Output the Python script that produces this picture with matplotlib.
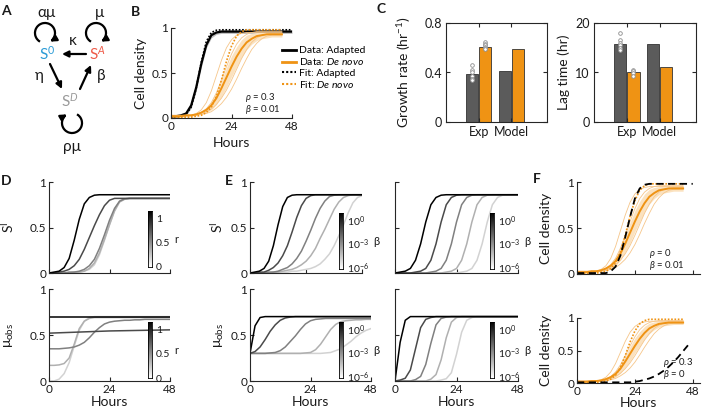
import numpy as np
import matplotlib
matplotlib.use('Agg')
import matplotlib.pyplot as plt
from matplotlib.patches import Arc
from matplotlib.lines import Line2D

plt.rcParams['font.family'] = ['Lato', 'DejaVu Sans']
plt.rcParams['mathtext.fontset'] = 'custom'
plt.rcParams['mathtext.rm'] = 'Lato'
plt.rcParams['mathtext.it'] = 'Lato:italic'
plt.rcParams['mathtext.fallback'] = 'stixsans'

# ---------------- data ----------------
hours = [0, 2, 4, 6, 8, 10, 12, 14, 16, 18, 20, 22, 24, 26, 28, 30, 32, 34, 36, 38, 40, 42, 44, 46, 48]
hours_data = hours[:23]  # measured cultures stop at 44 h

# B / F: cell density
adapted_mean = [0.02, 0.02, 0.03, 0.05, 0.14, 0.34, 0.60, 0.81, 0.92, 0.95, 0.96, 0.96, 0.96, 0.96, 0.96,
                0.96, 0.96, 0.96, 0.96, 0.96, 0.96, 0.96, 0.96, 0.96, 0.96]
adapted_sd = [0.01, 0.01, 0.01, 0.02, 0.03, 0.04, 0.04, 0.03, 0.03, 0.02, 0.02, 0.02, 0.02, 0.02, 0.02,
              0.02, 0.02, 0.02, 0.02, 0.02, 0.02, 0.02, 0.02, 0.02, 0.02]
adapted_fit = [0.01, 0.01, 0.02, 0.04, 0.12, 0.33, 0.62, 0.85, 0.95, 0.975, 0.98, 0.98, 0.98, 0.98, 0.98,
               0.98, 0.98, 0.98, 0.98, 0.98, 0.98, 0.98, 0.98, 0.98, 0.98]
denovo_mean = [0.02, 0.02, 0.02, 0.03, 0.03, 0.04, 0.06, 0.09, 0.14, 0.22, 0.33, 0.45, 0.57, 0.68, 0.77,
               0.84, 0.88, 0.91, 0.92, 0.93, 0.93, 0.93, 0.93]
denovo_hi = [0.03, 0.03, 0.03, 0.04, 0.04, 0.05, 0.08, 0.12, 0.19, 0.29, 0.42, 0.56, 0.69, 0.79, 0.87,
             0.92, 0.94, 0.95, 0.96, 0.96, 0.96, 0.96, 0.96]
denovo_lo = [0.01, 0.01, 0.01, 0.02, 0.02, 0.03, 0.04, 0.06, 0.09, 0.15, 0.24, 0.34, 0.46, 0.57, 0.68,
             0.76, 0.82, 0.86, 0.88, 0.89, 0.90, 0.90, 0.90]
denovo_reps = [
    [0.02, 0.02, 0.02, 0.02, 0.03, 0.05, 0.09, 0.17, 0.30, 0.47, 0.64, 0.78, 0.87, 0.92, 0.94, 0.95,
     0.95, 0.95, 0.95, 0.95, 0.95, 0.95, 0.95],
    [0.02, 0.02, 0.02, 0.03, 0.03, 0.04, 0.06, 0.10, 0.17, 0.28, 0.42, 0.57, 0.71, 0.82, 0.89, 0.93,
     0.95, 0.96, 0.96, 0.96, 0.96, 0.96, 0.96],
    [0.03, 0.03, 0.03, 0.03, 0.03, 0.04, 0.05, 0.07, 0.10, 0.15, 0.22, 0.31, 0.42, 0.54, 0.66, 0.76,
     0.84, 0.89, 0.92, 0.93, 0.94, 0.94, 0.94],
    [0.03, 0.03, 0.03, 0.03, 0.03, 0.03, 0.04, 0.05, 0.07, 0.11, 0.16, 0.23, 0.32, 0.43, 0.55, 0.66,
     0.76, 0.83, 0.88, 0.91, 0.92, 0.92, 0.92],
]
denovo_fit = [0.01, 0.01, 0.01, 0.01, 0.01, 0.02, 0.03, 0.06, 0.12, 0.24, 0.42, 0.63, 0.80, 0.91, 0.96,
              0.98, 0.98, 0.98, 0.98, 0.98, 0.98, 0.98, 0.98]
model_rho0 = [0.01, 0.01, 0.01, 0.01, 0.01, 0.01, 0.01, 0.03, 0.08, 0.20, 0.40, 0.62, 0.82, 0.93, 0.97,
              0.98, 0.98, 0.98, 0.98, 0.98, 0.98, 0.98, 0.98, 0.98, 0.98]
model_beta0 = [0.01, 0.01, 0.01, 0.01, 0.01, 0.01, 0.01, 0.01, 0.01, 0.01, 0.01, 0.01, 0.02, 0.03, 0.05,
               0.07, 0.10, 0.14, 0.19, 0.25, 0.32, 0.40, 0.49, 0.58]

# C: bars
groups = ['Exp', 'Model']
growth_adapted = [0.385, 0.41]
growth_denovo = [0.605, 0.59]
lag_adapted = [15.8, 15.7]
lag_denovo = [10.0, 11.2]
growth_pts_adapted = [0.46, 0.42, 0.40, 0.37, 0.35, 0.34]
growth_pts_denovo = [0.65, 0.63, 0.62, 0.61, 0.60, 0.59]
lag_pts_adapted = [18.0, 16.5, 16.0, 15.5, 15.0, 14.5]
lag_pts_denovo = [10.5, 10.3, 9.9, 9.2]

# D: varying r (1, 0.75, 0.5, 0.25, 0)
d_s1 = [
    [0.0, 0.01, 0.02, 0.06, 0.16, 0.36, 0.59, 0.76, 0.83, 0.855, 0.86, 0.86, 0.86, 0.86, 0.86, 0.86,
     0.86, 0.86, 0.86, 0.86, 0.86, 0.86, 0.86, 0.86, 0.86],
    [0.0, 0.0, 0.01, 0.02, 0.04, 0.08, 0.15, 0.26, 0.39, 0.52, 0.64, 0.74, 0.80, 0.82, 0.82, 0.82,
     0.82, 0.82, 0.82, 0.82, 0.82, 0.82, 0.82, 0.82, 0.82],
    [0.0, 0.0, 0.0, 0.0, 0.01, 0.01, 0.02, 0.04, 0.08, 0.15, 0.27, 0.42, 0.58, 0.71, 0.79, 0.815,
     0.82, 0.82, 0.82, 0.82, 0.82, 0.82, 0.82, 0.82, 0.82],
    [0.0, 0.0, 0.0, 0.0, 0.0, 0.01, 0.01, 0.02, 0.05, 0.11, 0.22, 0.37, 0.53, 0.68, 0.78, 0.81,
     0.82, 0.82, 0.82, 0.82, 0.82, 0.82, 0.82, 0.82, 0.82],
    [0.0, 0.0, 0.0, 0.0, 0.0, 0.0, 0.01, 0.02, 0.04, 0.09, 0.20, 0.36, 0.53, 0.69, 0.79, 0.815,
     0.82, 0.82, 0.82, 0.82, 0.82, 0.82, 0.82, 0.82, 0.82],
]
d_mu = [
    [0.70, 0.70, 0.70, 0.70, 0.70, 0.70, 0.70, 0.70, 0.70, 0.70, 0.70, 0.70, 0.70, 0.70, 0.70, 0.70,
     0.70, 0.70, 0.70, 0.70, 0.70, 0.70, 0.70, 0.70, 0.70],
    [0.52, 0.522, 0.524, 0.526, 0.528, 0.53, 0.532, 0.534, 0.536, 0.538, 0.54, 0.542, 0.544, 0.545,
     0.546, 0.547, 0.548, 0.549, 0.55, 0.551, 0.552, 0.553, 0.554, 0.555, 0.556],
    [0.35, 0.35, 0.35, 0.355, 0.36, 0.37, 0.39, 0.42, 0.47, 0.53, 0.58, 0.62, 0.64, 0.65, 0.655, 0.66,
     0.66, 0.665, 0.665, 0.67, 0.67, 0.67, 0.67, 0.67, 0.67],
    [0.17, 0.17, 0.175, 0.19, 0.25, 0.40, 0.57, 0.65, 0.68, 0.69, 0.69, 0.69, 0.69, 0.69, 0.69, 0.69,
     0.69, 0.69, 0.69, 0.69, 0.69, 0.69, 0.69, 0.69, 0.69],
    [0.0, 0.0, 0.02, 0.08, 0.20, 0.38, 0.55, 0.65, 0.69, 0.70, 0.70, 0.70, 0.70, 0.70, 0.70, 0.70,
     0.70, 0.70, 0.70, 0.70, 0.70, 0.70, 0.70, 0.70, 0.70],
]

# E: varying beta (1e0 ... 1e-6), left rho = 0.3, right rho = 0
e_s1_left = [
    [0.0, 0.01, 0.02, 0.05, 0.13, 0.30, 0.53, 0.73, 0.83, 0.855, 0.86, 0.86, 0.86, 0.86, 0.86, 0.86,
     0.86, 0.86, 0.86, 0.86, 0.86, 0.86, 0.86, 0.86, 0.86],
    [0.0, 0.0, 0.01, 0.01, 0.03, 0.06, 0.11, 0.19, 0.30, 0.45, 0.61, 0.74, 0.82, 0.85, 0.86, 0.86,
     0.86, 0.86, 0.86, 0.86, 0.86, 0.86, 0.86, 0.86, 0.86],
    [0.0, 0.0, 0.0, 0.0, 0.01, 0.01, 0.02, 0.04, 0.06, 0.10, 0.16, 0.24, 0.35, 0.47, 0.60, 0.71,
     0.79, 0.84, 0.855, 0.86, 0.86, 0.86, 0.86, 0.86, 0.86],
    [0.0, 0.0, 0.0, 0.0, 0.0, 0.01, 0.01, 0.02, 0.03, 0.04, 0.06, 0.09, 0.13, 0.19, 0.27, 0.38,
     0.48, 0.59, 0.70, 0.78, 0.83, 0.85, 0.86, 0.86, 0.86],
    [0.0, 0.0, 0.0, 0.0, 0.0, 0.0, 0.01, 0.01, 0.01, 0.02, 0.02, 0.03, 0.04, 0.05, 0.07, 0.10,
     0.15, 0.21, 0.30, 0.41, 0.53, 0.66, 0.77, 0.83, 0.85],
]
e_mu_left = [
    [0.30, 0.60, 0.69, 0.70, 0.70, 0.70, 0.70, 0.70, 0.70, 0.70, 0.70, 0.70, 0.70, 0.70, 0.70, 0.70,
     0.70, 0.70, 0.70, 0.70, 0.70, 0.70, 0.70, 0.70, 0.70],
    [0.30, 0.32, 0.37, 0.45, 0.54, 0.61, 0.66, 0.685, 0.695, 0.70, 0.70, 0.70, 0.70, 0.70, 0.70, 0.70,
     0.70, 0.70, 0.70, 0.70, 0.70, 0.70, 0.70, 0.70, 0.70],
    [0.30, 0.30, 0.30, 0.30, 0.305, 0.31, 0.33, 0.37, 0.43, 0.49, 0.56, 0.62, 0.655, 0.67, 0.675, 0.68,
     0.68, 0.68, 0.68, 0.68, 0.68, 0.68, 0.68, 0.68, 0.68],
    [0.30, 0.30, 0.30, 0.30, 0.30, 0.30, 0.30, 0.30, 0.30, 0.30, 0.30, 0.305, 0.31, 0.34, 0.40, 0.48,
     0.56, 0.615, 0.645, 0.655, 0.66, 0.665, 0.665, 0.67, 0.67],
    [0.30, 0.30, 0.30, 0.30, 0.30, 0.30, 0.30, 0.30, 0.30, 0.30, 0.30, 0.30, 0.30, 0.30, 0.30, 0.305,
     0.31, 0.33, 0.35, 0.39, 0.43, 0.48, 0.52, 0.55, 0.57],
]
e_s1_right = [
    [0.0, 0.01, 0.02, 0.05, 0.14, 0.32, 0.56, 0.75, 0.83, 0.855, 0.86, 0.86, 0.86, 0.86, 0.86, 0.86,
     0.86, 0.86, 0.86, 0.86, 0.86, 0.86, 0.86, 0.86, 0.86],
    [0.0, 0.0, 0.0, 0.0, 0.01, 0.02, 0.05, 0.14, 0.32, 0.56, 0.75, 0.83, 0.855, 0.86, 0.86, 0.86,
     0.86, 0.86, 0.86, 0.86, 0.86, 0.86, 0.86, 0.86, 0.86],
    [0.0, 0.0, 0.0, 0.0, 0.0, 0.0, 0.0, 0.01, 0.02, 0.05, 0.14, 0.32, 0.56, 0.75, 0.83, 0.855,
     0.86, 0.86, 0.86, 0.86, 0.86, 0.86, 0.86, 0.86, 0.86],
    [0.0, 0.0, 0.0, 0.0, 0.0, 0.0, 0.0, 0.0, 0.0, 0.0, 0.01, 0.02, 0.05, 0.14, 0.32, 0.56,
     0.75, 0.83, 0.855, 0.86, 0.86, 0.86, 0.86, 0.86, 0.86],
    [0.0, 0.0, 0.0, 0.0, 0.0, 0.0, 0.0, 0.0, 0.0, 0.0, 0.0, 0.0, 0.0, 0.01, 0.02, 0.05,
     0.14, 0.32, 0.56, 0.75, 0.83, 0.855, 0.86, 0.86, 0.86],
]
e_mu_right = [
    [0.0, 0.42, 0.66, 0.70, 0.70, 0.70, 0.70, 0.70, 0.70, 0.70, 0.70, 0.70, 0.70, 0.70, 0.70, 0.70,
     0.70, 0.70, 0.70, 0.70, 0.70, 0.70, 0.70, 0.70, 0.70],
    [0.0, 0.01, 0.03, 0.12, 0.35, 0.58, 0.67, 0.69, 0.70, 0.70, 0.70, 0.70, 0.70, 0.70, 0.70, 0.70,
     0.70, 0.70, 0.70, 0.70, 0.70, 0.70, 0.70, 0.70, 0.70],
    [0.0, 0.0, 0.0, 0.0, 0.015, 0.05, 0.18, 0.41, 0.61, 0.68, 0.695, 0.70, 0.70, 0.70, 0.70, 0.70,
     0.70, 0.70, 0.70, 0.70, 0.70, 0.70, 0.70, 0.70, 0.70],
    [0.0, 0.0, 0.0, 0.0, 0.0, 0.0, 0.0, 0.02, 0.07, 0.23, 0.47, 0.64, 0.69, 0.70, 0.70, 0.70,
     0.70, 0.70, 0.70, 0.70, 0.70, 0.70, 0.70, 0.70, 0.70],
    [0.0, 0.0, 0.0, 0.0, 0.0, 0.0, 0.0, 0.0, 0.0, 0.01, 0.025, 0.09, 0.29, 0.53, 0.66, 0.69,
     0.70, 0.70, 0.70, 0.70, 0.70, 0.70, 0.70, 0.70, 0.70],
]
shades = ['#000000', '#4a4a4a', '#808080', '#b0b0b0', '#d2d2d2']

# ---------------- styling ----------------
W, H = 708, 415
ORANGE = '#ef9314'
ORANGE_LIGHT = '#f6c68a'
ORANGE_BAND = '#fbe2bf'
DARK = '#5b5b5b'
AXC = '#262626'
TXT = '#1a1a1a'


def box(l, t, r, b):
    return [l / W, 1 - b / H, (r - l) / W, (b - t) / H]


fig = plt.figure(figsize=(W / 100, H / 100), dpi=100)


def frame(rect, xlim=(0, 48), ylabels=True, xlabels=True):
    ax = fig.add_axes(box(*rect))
    ax.set_xlim(*xlim)
    ax.set_ylim(0, 1)
    ax.spines[['top', 'right']].set_visible(False)
    for s in ax.spines.values():
        s.set_color(AXC)
        s.set_linewidth(0.8)
    ax.set_xticks([0, 24, 48])
    ax.set_yticks([0, 0.5, 1])
    ax.set_yticklabels(['0', '0.5', '1'] if ylabels else [])
    if not xlabels:
        ax.set_xticklabels([])
    ax.tick_params(direction='in', length=3, width=0.8, labelsize=8.5, pad=2,
                   color=AXC, labelcolor=TXT)
    return ax


def cbar(rect, lo, hi, ticks, labels, name, dx):
    cax = fig.add_axes(box(*rect))
    cax.imshow(np.linspace(0, 1, 200)[:, None], cmap='gray_r', aspect='auto', origin='lower',
               extent=(0, 1, lo, hi))
    cax.set_xticks([])
    cax.yaxis.tick_right()
    cax.set_yticks(ticks, labels)
    cax.tick_params(length=0, pad=3, labelsize=7.5, labelcolor=TXT)
    for s in cax.spines.values():
        s.set_linewidth(0.6)
    cax.annotate(name, (1, 0.5), xycoords='axes fraction', xytext=(dx, 0),
                 textcoords='offset points', va='center', fontsize=8, color=TXT)


def draw_denovo(ax):
    ax.fill_between(hours_data, denovo_lo, denovo_hi, color=ORANGE_BAND, lw=0)
    for rep in denovo_reps:
        ax.plot(hours_data, rep, color=ORANGE_LIGHT, lw=0.6)
    ax.plot(hours_data, denovo_mean, color=ORANGE, lw=1.4)
    ax.plot(hours_data, denovo_fit, color=ORANGE, lw=1.2, ls=(0, (1, 1)))


def curves(ax, series):
    for ys, c in reversed(list(zip(series, shades))):
        ax.plot(hours, ys, color=c, lw=1.1)


def params(ax, x, y, rho, beta):
    ax.text(x, y, r'$\rho$ = ' + rho + '\n' + r'$\beta$ = ' + beta, transform=ax.transAxes,
            fontsize=6.8, va='bottom', ha='left', linespacing=0.9, color=TXT)


# ---------------- A: diagram ----------------
ax_a = fig.add_axes([0, 0, 1, 1], zorder=-1)
ax_a.set_xlim(0, W)
ax_a.set_ylim(H, 0)
ax_a.axis('off')
node = dict(ha='center', va='center', fontsize=11)
ax_a.text(47, 54, 'S$^0$', color='#2b9bd6', **node)
ax_a.text(97, 54, 'S$^A$', color='#ee5a48', **node)
ax_a.text(70, 101, 'S$^D$', color='#9a9a9a', **node)
greek = dict(ha='center', va='center', fontsize=11, color=TXT)
ax_a.text(47, 13, 'αμ', **greek)
ax_a.text(100, 13, 'μ', **greek)
ax_a.text(72, 147, 'ρμ', **greek)
ax_a.text(73, 41, 'κ', **greek)
ax_a.text(39, 76, 'η', **greek)
ax_a.text(101, 76, 'β', **greek)
arrow = dict(arrowstyle='-|>', color='k', lw=1.6, mutation_scale=9, shrinkA=0, shrinkB=0)
ax_a.annotate('', xy=(62, 54), xytext=(86, 54), arrowprops=arrow)
ax_a.annotate('', xy=(62, 89), xytext=(50, 64), arrowprops=arrow)
ax_a.annotate('', xy=(91, 65), xytext=(80, 89), arrowprops=arrow)


def loop(cx, cy, t1, t2):
    ax_a.add_patch(Arc((cx, cy), 20, 20, theta1=t1, theta2=t2 - 12, lw=1.6, color='k'))
    th = np.radians(t2)
    end = (cx + 10 * np.cos(th), cy + 10 * np.sin(th))
    ax_a.annotate('', xy=end, xytext=(end[0] + 4 * np.sin(th), end[1] - 4 * np.cos(th)),
                  arrowprops=arrow)


loop(45, 33, 120, 420)
loop(96, 33, 120, 420)
loop(72, 123, 300, 600)

# ---------------- B ----------------
ax_b = frame((171, 28, 292, 118))
lo = [m - s for m, s in zip(adapted_mean, adapted_sd)]
hi = [m + s for m, s in zip(adapted_mean, adapted_sd)]
ax_b.fill_between(hours, lo, hi, color='#bdbdbd', lw=0)
ax_b.plot(hours, adapted_mean, color='k', lw=1.6)
ax_b.plot(hours, adapted_fit, color='k', lw=1.2, ls=(0, (1, 1)))
draw_denovo(ax_b)
ax_b.set_ylabel('Cell density', fontsize=10, color=TXT)
ax_b.yaxis.set_label_coords(-0.2, 0.5)
ax_b.set_xlabel('Hours', fontsize=10, color=TXT, labelpad=4)
params(ax_b, 0.61, 0.02, '0.3', '0.01')
handles = [Line2D([], [], color='k', lw=2), Line2D([], [], color=ORANGE, lw=2),
           Line2D([], [], color='k', lw=1.5, ls=(0, (1, 1))),
           Line2D([], [], color=ORANGE, lw=1.5, ls=(0, (1, 1)))]
fig.legend(handles, ['Data: Adapted', 'Data: $\\it{De\\ novo}$', 'Fit: Adapted', 'Fit: $\\it{De\\ novo}$'],
           loc='upper left', bbox_to_anchor=(282 / W, 1 - 46 / H), frameon=False, fontsize=7.5,
           handlelength=1.3, handletextpad=0.3, labelspacing=0.1, borderpad=0, borderaxespad=0)

# ---------------- C ----------------
pos = np.arange(1, len(groups) + 1)


def bars(rect, adapted, denovo, pts_a, pts_d, yticks, ylabel, lx):
    ax = fig.add_axes(box(*rect))
    ax.bar(pos - 0.2, adapted, width=0.37, color=DARK, edgecolor='#333333', lw=0.6)
    ax.bar(pos + 0.2, denovo, width=0.37, color=ORANGE, edgecolor='#333333', lw=0.6)
    ax.plot([pos[0] - 0.2] * len(pts_a), pts_a, 'o', ms=2.6, mfc='white', mec='#8c8c8c', mew=0.6)
    ax.plot([pos[0] + 0.2] * len(pts_d), pts_d, 'o', ms=2.6, mfc='white', mec='#8c8c8c', mew=0.6)
    ax.set_xlim(0, 3.1)
    ax.set_ylim(yticks[0], yticks[-1])
    ax.set_xticks(pos, groups)
    ax.set_yticks(yticks, [f'{v:g}' for v in yticks])
    ax.tick_params(direction='in', length=3, width=0.8, labelsize=9, pad=3, top=True, right=True,
                   color=AXC, labelcolor=TXT)
    for s in ax.spines.values():
        s.set_color(AXC)
        s.set_linewidth(0.8)
    ax.set_ylabel(ylabel, fontsize=10, color=TXT)
    ax.yaxis.set_label_coords(lx, 0.5)


bars((446, 23, 547, 122), growth_adapted, growth_denovo, growth_pts_adapted, growth_pts_denovo,
     [0, 0.4, 0.8], 'Growth rate (hr$^{-1}$)', -0.33)
bars((594, 23, 696, 122), lag_adapted, lag_denovo, lag_pts_adapted, lag_pts_denovo,
     [0, 10, 20], 'Lag time (hr)', -0.235)

# ---------------- D ----------------
ax_d1 = frame((49, 182, 170, 273), xlabels=False)
curves(ax_d1, d_s1)
ax_d1.set_ylabel('S$^{\\rm I}$', fontsize=10, color=TXT)
ax_d1.yaxis.set_label_coords(-0.27, 0.5)
cbar((148, 211, 152, 267), 0, 1.15, [0, 0.5, 1], ['0', '0.5', '1'], 'r', 16)

ax_d2 = frame((49, 289, 170, 381))
curves(ax_d2, d_mu)
ax_d2.set_ylabel('μ$_{\\rm obs}$', fontsize=10, color=TXT)
ax_d2.yaxis.set_label_coords(-0.27, 0.5)
ax_d2.set_xlabel('Hours', fontsize=10, color=TXT, labelpad=1)
cbar((148, 322, 152, 378), 0, 1.15, [0, 0.5, 1], ['0', '0.5', '1'], 'r', 16)

# ---------------- E ----------------
beta_ticks = [0, -3, -6]
beta_labels = ['10$^{0}$', '10$^{-3}$', '10$^{-6}$']
ax_e1 = frame((250, 182, 250 + 121 * 44.5 / 48, 273), xlim=(0, 44.5), xlabels=False)
curves(ax_e1, e_s1_left)
ax_e1.set_ylabel('S$^{\\rm I}$', fontsize=10, color=TXT)
ax_e1.yaxis.set_label_coords(-0.22, 0.5)
cbar((339, 213, 343, 269), -6.3, 0.9, beta_ticks, beta_labels, 'β', 22)

ax_e2 = frame((250, 289, 371, 381))
curves(ax_e2, e_mu_left)
ax_e2.set_ylabel('μ$_{\\rm obs}$', fontsize=10, color=TXT)
ax_e2.yaxis.set_label_coords(-0.2, 0.5)
ax_e2.set_xlabel('Hours', fontsize=10, color=TXT, labelpad=1)
cbar((339, 322, 343, 378), -6.3, 0.9, beta_ticks, beta_labels, 'β', 22)

ax_e3 = frame((395, 182, 518, 273), ylabels=False, xlabels=False)
curves(ax_e3, e_s1_right)
cbar((490, 213, 494, 269), -6.3, 0.9, beta_ticks, beta_labels, 'β', 22)

ax_e4 = frame((395, 289, 518, 381), ylabels=False)
curves(ax_e4, e_mu_right)
ax_e4.set_xlabel('Hours', fontsize=10, color=TXT, labelpad=1)
cbar((490, 322, 494, 378), -6.3, 0.9, beta_ticks, beta_labels, 'β', 22)

# ---------------- F ----------------
ax_f1 = frame((577, 182, 700, 274), xlim=(0, 51), xlabels=False)
draw_denovo(ax_f1)
ax_f1.plot(hours, model_rho0, color='k', lw=1.3, ls=(0, (4, 2.5)))
ax_f1.set_ylabel('Cell density', fontsize=10, color=TXT)
ax_f1.yaxis.set_label_coords(-0.2, 0.5)
params(ax_f1, 0.585, 0.02, '0', '0.01')

ax_f2 = frame((577, 318, 700, 383), xlim=(0, 51))
draw_denovo(ax_f2)
ax_f2.plot(hours[:24], model_beta0, color='k', lw=1.3, ls=(0, (4, 2.5)))
ax_f2.set_ylabel('Cell density', fontsize=10, color=TXT)
ax_f2.yaxis.set_label_coords(-0.2, 0.5)
ax_f2.set_xlabel('Hours', fontsize=10, color=TXT, labelpad=0)
params(ax_f2, 0.70, 0.03, '0.3', '0')

# ---------------- panel letters ----------------
for letter, x, y in [('A', 6, 11), ('B', 135, 12), ('C', 381, 9), ('D', 6, 181), ('E', 229, 181), ('F', 537, 179)]:
    fig.text(x / W, 1 - y / H, letter, fontsize=10, fontweight='bold', ha='center', va='center', color=TXT)

fig.savefig('out.png', dpi=100)
